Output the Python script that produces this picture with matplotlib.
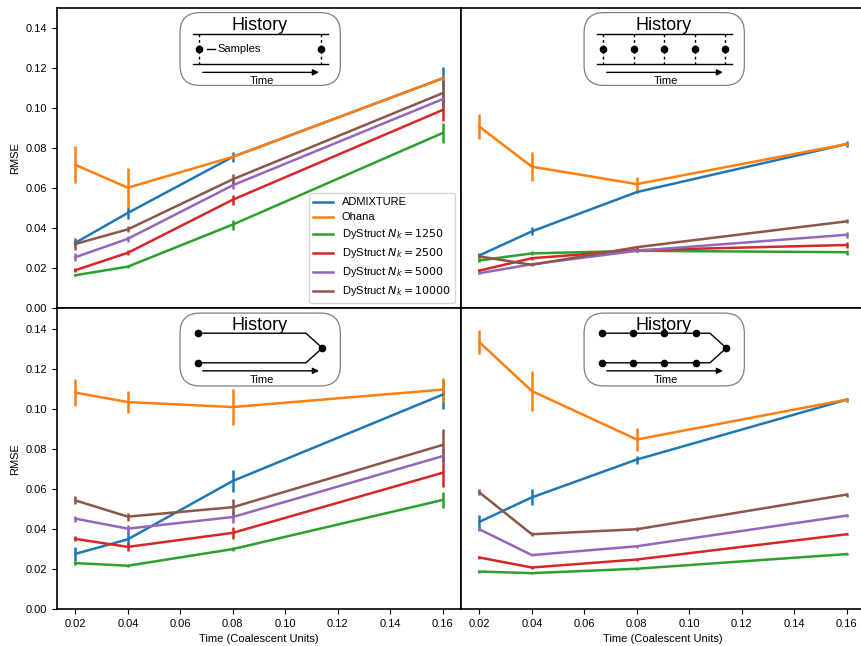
import matplotlib
matplotlib.use('Agg')
import matplotlib.pyplot as plt
from matplotlib.patches import FancyBboxPatch

# === Data ===
times = [0.02, 0.04, 0.08, 0.16]
methods = ['ADMIXTURE', 'Ohana', r'DyStruct $N_k = 1250$', r'DyStruct $N_k = 2500$',
           r'DyStruct $N_k = 5000$', r'DyStruct $N_k = 10000$']
colors = ['C0', 'C1', 'C2', 'C3', 'C4', 'C5']

# two sampling points
rmse_two = [[0.0328, 0.0477, 0.0757, 0.1149],
            [0.0717, 0.0603, 0.0757, 0.1149],
            [0.0166, 0.0209, 0.0419, 0.0876],
            [0.0191, 0.0278, 0.0543, 0.0991],
            [0.0256, 0.0348, 0.0615, 0.1045],
            [0.0322, 0.0395, 0.0645, 0.1075]]
err_two = [[0.0010, 0.0030, 0.0025, 0.0057],
           [0.0093, 0.0099, 0.0010, 0.0010],
           [0.0005, 0.0005, 0.0025, 0.0050],
           [0.0010, 0.0013, 0.0025, 0.0055],
           [0.0020, 0.0015, 0.0020, 0.0040],
           [0.0030, 0.0015, 0.0025, 0.0067]]

# five sampling points
rmse_five = [[0.0265, 0.0385, 0.0581, 0.0821],
             [0.0908, 0.0708, 0.0621, 0.0821],
             [0.0240, 0.0275, 0.0288, 0.0281],
             [0.0189, 0.0251, 0.0291, 0.0317],
             [0.0176, 0.0221, 0.0288, 0.0368],
             [0.0260, 0.0218, 0.0306, 0.0435]]
err_five = [[0.0012, 0.0020, 0.0005, 0.0017],
            [0.0061, 0.0074, 0.0037, 0.0010],
            [0.0010, 0.0010, 0.0005, 0.0012],
            [0.0008, 0.0008, 0.0010, 0.0015],
            [0.0005, 0.0005, 0.0008, 0.0015],
            [0.0010, 0.0005, 0.0008, 0.0010]]

# split, two sampling points
rmse_split = [[0.0275, 0.0348, 0.0639, 0.1070],
              [0.1080, 0.1033, 0.1008, 0.1095],
              [0.0229, 0.0216, 0.0299, 0.0544],
              [0.0350, 0.0310, 0.0380, 0.0680],
              [0.0451, 0.0401, 0.0459, 0.0763],
              [0.0542, 0.0461, 0.0508, 0.0819]]
err_split = [[0.0033, 0.0040, 0.0056, 0.0073],
             [0.0066, 0.0055, 0.0089, 0.0060],
             [0.0010, 0.0005, 0.0010, 0.0040],
             [0.0013, 0.0020, 0.0030, 0.0070],
             [0.0015, 0.0020, 0.0030, 0.0040],
             [0.0020, 0.0020, 0.0040, 0.0080]]

# split, many sampling points
rmse_split_many = [[0.0435, 0.0557, 0.0746, 0.1045],
                   [0.1332, 0.1088, 0.0846, 0.1045],
                   [0.0187, 0.0179, 0.0201, 0.0274],
                   [0.0257, 0.0207, 0.0247, 0.0373],
                   [0.0398, 0.0269, 0.0313, 0.0466],
                   [0.0582, 0.0373, 0.0398, 0.0571]]
err_split_many = [[0.0035, 0.0040, 0.0020, 0.0010],
                  [0.0061, 0.0100, 0.0056, 0.0010],
                  [0.0005, 0.0005, 0.0005, 0.0005],
                  [0.0005, 0.0005, 0.0005, 0.0005],
                  [0.0008, 0.0005, 0.0008, 0.0008],
                  [0.0015, 0.0010, 0.0010, 0.0010]]

xticks = [0.02, 0.04, 0.06, 0.08, 0.10, 0.12, 0.14, 0.16]
yticks = [0.00, 0.02, 0.04, 0.06, 0.08, 0.10, 0.12, 0.14]

plt.rcParams['font.family'] = ['Liberation Sans', 'DejaVu Sans']

fig, axes = plt.subplots(2, 2, figsize=(8.62, 6.46), dpi=100, sharex=True, sharey=True,
                         gridspec_kw=dict(hspace=0, wspace=0))
fig.subplots_adjust(left=0.0661, right=1.0035, bottom=0.0573, top=0.9876)


# === Inset diagram ("History") ===
def draw_history(ax, kind):
    ins = ax.inset_axes([0.303, 0.74, 0.40, 0.247])
    ins.set_xlim(0, 484)
    ins.set_ylim(221, 0)
    ins.axis('off')
    ins.set_zorder(10)
    box = FancyBboxPatch((2, 2), 480, 217, boxstyle='round,pad=0,rounding_size=60',
                         facecolor='white', edgecolor='#808080', lw=0.9)
    ins.add_patch(box)
    k = dict(color='black', lw=1.0)
    if kind in ('two', 'five'):
        ins.text(240, 55, 'History', ha='center', va='baseline', fontsize=13)
        ins.plot([40, 446], [66, 66], **k)
        ins.plot([40, 446], [154, 154], **k)
        xs = [59, 424] if kind == 'two' else [60, 151, 242, 333, 424]
        for x in xs:
            ins.plot([x, x], [66, 154], color='black', lw=1.0, ls=(0, (2, 2)))
            ins.plot(x, 111, 'o', color='black', ms=4.5)
        if kind == 'two':
            ins.plot([82, 107], [111, 111], **k)
            ins.text(114, 120, 'Samples', ha='left', va='baseline', fontsize=8)
        ya, yt = 180, 214
    else:
        ins.text(240, 51, 'History', ha='center', va='baseline', fontsize=13)
        xs = [55] if kind == 'split' else [56, 149, 242, 336]
        for yy in (62, 150):
            ins.plot([55, 379, 428], [yy, yy, 106], **k)
            for x in xs:
                ins.plot(x, yy, 'o', color='black', ms=4.5)
        ins.plot(428, 106, 'o', color='black', ms=4.5)
        ya, yt = 174, 209
    ins.annotate('', xy=(418, ya), xytext=(70, ya),
                 arrowprops=dict(arrowstyle='-|>', color='black', lw=1.0,
                                 mutation_scale=9, shrinkA=0, shrinkB=0))
    ins.text(247, yt, 'Time', ha='center', va='baseline', fontsize=8)


panels = [(axes[0, 0], rmse_two, err_two, 'two'),
          (axes[0, 1], rmse_five, err_five, 'five'),
          (axes[1, 0], rmse_split, err_split, 'split'),
          (axes[1, 1], rmse_split_many, err_split_many, 'split_many')]

for ax, rmse, err, kind in panels:
    handles = []
    for vals, e, c in zip(rmse, err, colors):
        cont = ax.errorbar(times, vals, yerr=e, color=c, lw=1.8, elinewidth=1.8, capsize=0)
        handles.append(cont.lines[0])
    for s in ax.spines.values():
        s.set_linewidth(1.2)
    ax.set_ylim(0, 0.15)
    ax.set_yticks(yticks)
    ax.set_xticks(xticks)
    ax.tick_params(labelsize=8)
    draw_history(ax, kind)

for ax in axes[:, 1]:
    ax.tick_params(left=False)
for ax in axes[0, :]:
    ax.tick_params(bottom=False)
for ax in axes[:, 0]:
    ax.set_ylabel('RMSE', fontsize=8)
for ax in axes[1, :]:
    ax.set_xlabel('Time (Coalescent Units)', fontsize=8)

axes[0, 0].legend(handles, methods, loc='lower right', fontsize=8, handlelength=1.8,
                  labelspacing=0.45)

fig.savefig('out.png', dpi=100)
